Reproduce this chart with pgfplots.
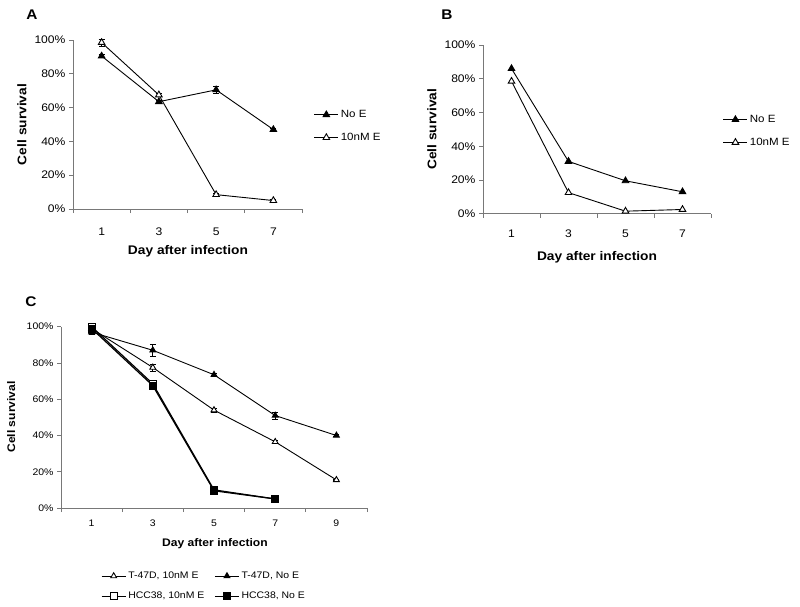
\documentclass[border=0pt]{standalone}
\usepackage{fontspec}
\setmainfont{Liberation Sans}[FakeStretch=1.1]
\usepackage{pgfplots}
\pgfplotsset{compat=1.18}
\definecolor{axgray}{RGB}{120,120,120}
\pgfplotsset{
  excel/.style={
    scale only axis,
    axis lines*=left,
    axis line style={axgray, line width=0.7pt},
    tick align=outside,
    major tick length=4pt,
    minor tick length=4pt,
    every tick/.style={axgray, line width=0.7pt},
    major x tick style={draw=none},
    ymin=0, ymax=100, ytick={0,20,...,100},
    yticklabel={\pgfmathprintnumber{\tick}\%},
    xmin=0,
    /pgf/number format/assume math mode=true,
    clip=false,
    legend cell align=left,
    legend image code/.code={\draw[mark repeat=2,mark phase=2,##1] plot coordinates {(0pt,0pt) (12pt,0pt) (24pt,0pt)};},
    legend style={draw=none, fill=none, inner sep=0pt, outer sep=0pt,
      nodes={inner sep=2pt, text depth=0.15em}},
    error bars/error bar style={line width=0.7pt, black},
    error bars/error mark options={rotate=90, mark size=3pt, line width=0.7pt, black},
  },
  filltri/.style={black, line width=0.9pt, mark=triangle*, mark size=3.8pt, mark options={fill=black, solid}},
  opentri/.style={black, line width=0.9pt, mark=triangle*, mark size=3.8pt, mark options={fill=white, solid}},
  fillsq/.style={black, line width=1.2pt, mark=square*, mark size=3.6pt, mark options={fill=black, solid, line width=0.8pt}},
  opensq/.style={black, line width=1.2pt, mark=square*, mark size=3.6pt, mark options={fill=white, solid, line width=0.8pt}},
}
\begin{document}
\begin{tikzpicture}
\path[use as bounding box] (0pt,0pt) rectangle (800pt,-606pt);
\node[font=\fontsize{14}{16}\selectfont\bfseries] at (32pt,-14.5pt) {A};
\node[font=\fontsize{14}{16}\selectfont\bfseries] at (447pt,-15pt) {B};
\node[font=\fontsize{14}{16}\selectfont\bfseries] at (31pt,-302pt) {C};

% Panel A
\begin{axis}[excel, at={(73pt,-40pt)}, anchor=north west, width=229pt, height=169pt,
  xmax=8, xtick={1,3,5,7}, minor xtick={0,2,4,6,8},
  tick label style={font=\fontsize{11}{13}\selectfont},
  xticklabel style={yshift=-11pt},
  xlabel={Day after infection}, ylabel={Cell survival},
  label style={font=\fontsize{12.5}{14}\selectfont\bfseries},
  xlabel style={at={(axis description cs:0.502,-0.2485)}, anchor=center},
  ylabel style={at={(axis description cs:-0.2227,0.5)}, anchor=center},
  legend style={at={(1.052,0.49)}, anchor=west, row sep=10pt, font=\fontsize{10.5}{12}\selectfont},
]
\addplot+[filltri, error bars/.cd, y dir=both, y explicit] coordinates {(1,90.5) +- (0,1) (3,63.5) +- (0,1) (5,70.5) +- (0,2) (7,47) +- (0,1)};
\addlegendentry{No E}
\addplot+[opentri, error bars/.cd, y dir=both, y explicit] coordinates {(1,98.5) +- (0,2) (3,67.5) +- (0,1) (5,8.5) +- (0,1) (7,5) +- (0,1)};
\addlegendentry{10nM E}
\end{axis}

% Panel B
\begin{axis}[excel, at={(483pt,-45pt)}, anchor=north west, width=228pt, height=168.7pt,
  xmax=8, xtick={1,3,5,7}, minor xtick={0,2,4,6,8},
  tick label style={font=\fontsize{11}{13}\selectfont},
  xticklabel style={yshift=-9pt},
  xlabel={Day after infection}, ylabel={Cell survival},
  label style={font=\fontsize{12.5}{14}\selectfont\bfseries},
  xlabel style={at={(axis description cs:0.5,-0.257)}, anchor=center},
  ylabel style={at={(axis description cs:-0.224,0.5)}, anchor=center},
  legend style={at={(1.0526,0.49)}, anchor=west, row sep=10pt, font=\fontsize{10.5}{12}\selectfont},
]
\addplot+[filltri] coordinates {(1,86) (3,31) (5,19.5) (7,13)};
\addlegendentry{No E}
\addplot+[opentri] coordinates {(1,78.5) (3,12.5) (5,1.5) (7,2.5)};
\addlegendentry{10nM E}
\end{axis}

% Panel C
\begin{axis}[excel, at={(61pt,-326.7pt)}, anchor=north west, width=306pt, height=181.3pt,
  xmax=10, xtick={1,3,5,7,9}, minor xtick={0,2,4,6,8,10},
  tick label style={font=\fontsize{9.5}{11}\selectfont},
  xticklabel style={yshift=-4pt},
  xlabel={Day after infection}, ylabel={Cell survival},
  label style={font=\fontsize{11}{13}\selectfont\bfseries},
  xlabel style={at={(axis description cs:0.503,-0.199)}, anchor=center},
  ylabel style={at={(axis description cs:-0.163,0.502)}, anchor=center},
  legend columns=2,
  legend style={at={(0.131,-0.342)}, anchor=north west, row sep=8pt, font=\fontsize{9.5}{11}\selectfont,
    /tikz/every odd column/.append style={column sep=0pt},
    /tikz/every even column/.append style={column sep=8pt}},
]
\addplot+[opentri, mark size=3.4pt, error bars/.cd, y dir=both, y explicit] coordinates {(1,99) +- (0,1) (3,77.5) +- (0,2) (5,54) +- (0,1) (7,36.5) +- (0,1) (9,15.5) +- (0,0.5)};
\addlegendentry{T-47D, 10nM E}
\addplot+[filltri, mark size=3.4pt, error bars/.cd, y dir=both, y explicit] coordinates {(1,97) +- (0,1) (3,87) +- (0,3.5) (5,73.5) +- (0,1) (7,51) +- (0,2) (9,40) +- (0,0.5)};
\addlegendentry{T-47D, No E}
\addplot+[opensq, error bars/.cd, y dir=both, y explicit] coordinates {(1,100) +- (0,1) (3,68.5) +- (0,2) (5,10) +- (0,1) (7,5) +- (0,0.5)};
\addlegendentry{HCC38, 10nM E}
\addplot+[fillsq, error bars/.cd, y dir=both, y explicit] coordinates {(1,99) +- (0,1) (3,67.5) +- (0,2) (5,9.5) +- (0,1) (7,5) +- (0,0.5)};
\addlegendentry{HCC38, No E}
\end{axis}
\end{tikzpicture}
\end{document}
